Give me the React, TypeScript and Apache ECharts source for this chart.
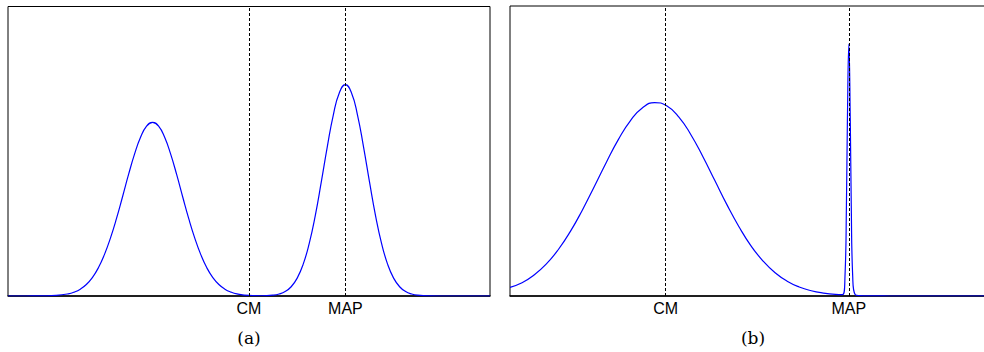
import React, { useEffect, useRef } from "react";
import * as echarts from "echarts";

// Panel (a): bimodal density
const aX: number[] = [0, 0.25, 0.5, 0.75, 1, 1.25, 1.375, 1.5, 1.625, 1.75, 1.875, 2, 2.125, 2.25, 2.375, 2.5, 2.625, 2.75, 2.875, 3, 3.125, 3.25, 3.375, 3.5, 3.625, 3.75, 3.875, 4, 4.125, 4.25, 4.375, 4.5, 4.625, 4.75, 5, 5.25, 5.5, 5.625, 5.75, 5.875, 6, 6.125, 6.25, 6.375, 6.5, 6.625, 6.75, 6.875, 7, 7.125, 7.25, 7.375, 7.5, 7.625, 7.75, 7.875, 8, 8.125, 8.25, 8.375, 8.5, 8.75, 9, 9.25, 9.5, 9.75, 10];
const aY: number[] = [0, 0, 0.0001, 0.0004, 0.0019, 0.0074, 0.0135, 0.0237, 0.0397, 0.0636, 0.0974, 0.143, 0.2, 0.267, 0.342, 0.419, 0.49, 0.548, 0.587, 0.6, 0.587, 0.548, 0.49, 0.419, 0.342, 0.267, 0.2, 0.143, 0.0974, 0.0636, 0.0397, 0.0237, 0.0135, 0.0074, 0.0019, 0.0008, 0.0029, 0.0069, 0.0154, 0.032, 0.0618, 0.11, 0.182, 0.278, 0.394, 0.516, 0.626, 0.702, 0.73, 0.702, 0.626, 0.516, 0.394, 0.278, 0.182, 0.11, 0.0618, 0.032, 0.0154, 0.0069, 0.0028, 0.0004, 0, 0, 0, 0, 0];
const aMarkerNames: string[] = ["CM", "MAP"];
const aMarkerX: number[] = [5, 7];

// Panel (b): broad mode + narrow spike
const bX: number[] = [0, 0.25, 0.5, 0.75, 1, 1.25, 1.5, 1.75, 2, 2.25, 2.5, 2.75, 3, 3.25, 3.5, 3.75, 4, 4.25, 4.5, 4.75, 5, 5.25, 5.5, 5.75, 6, 6.25, 6.5, 6.75, 6.9, 6.95, 6.98, 7.0, 7.03, 7.06, 7.08, 7.11, 7.16, 7.25, 7.5, 7.75, 8, 8.5, 9, 9.5, 10];
const bY: number[] = [0.03, 0.0456, 0.0723, 0.1097, 0.1595, 0.222, 0.296, 0.3776, 0.4614, 0.54, 0.605, 0.649, 0.667, 0.656, 0.618, 0.557, 0.481, 0.398, 0.315, 0.239, 0.173, 0.1205, 0.0802, 0.0511, 0.0312, 0.0182, 0.0102, 0.0055, 0.0046, 0.068, 0.315, 0.603, 0.869, 0.603, 0.315, 0.068, 0.005, 0.0015, 0.0005, 0.0001, 0, 0, 0, 0, 0];
const bMarkerNames: string[] = ["CM", "MAP"];
const bMarkerX: number[] = [3.23, 7.03];

const captions: string[] = ["(a)", "(b)"];

export default function App() {
  const ref = useRef<HTMLDivElement>(null);
  useEffect(() => {
    if (!ref.current) return;
    const chart = echarts.init(ref.current, undefined, { renderer: "svg" });
    const grids = [
      { left: 8, top: 6.5, width: 482, height: 289.5 },
      { left: 510, top: 6, width: 482, height: 290 },
    ];
    const mkLine = (names: string[], xs: number[]) => ({
      silent: true,
      symbol: "none",
      animation: false,
      lineStyle: { type: [3, 2], color: "#000", width: 1 },
      label: {
        show: true,
        position: "start",
        distance: 4,
        formatter: "{b}",
        fontSize: 16,
        fontFamily: "Liberation Sans, Arial, sans-serif",
        color: "#000",
      },
      emphasis: { disabled: true },
      data: names.map((n, i) => ({ name: n, xAxis: xs[i] })),
    });
    chart.setOption({
      animation: false,
      grid: grids.map((g) => ({
        ...g,
        show: true,
        outerBoundsMode: "none",
        containLabel: false,
        borderColor: "#000",
        borderWidth: 1,
        backgroundColor: "transparent",
      })),
      xAxis: [0, 1].map((i) => ({
        type: "value",
        gridIndex: i,
        min: 0,
        max: 10,
        axisLine: { show: true, onZero: false, lineStyle: { color: "#000", width: 1.5 } },
        axisTick: { show: false },
        axisLabel: { show: false },
        splitLine: { show: false },
      })),
      yAxis: [0, 1].map((i) => ({
        type: "value",
        gridIndex: i,
        min: 0,
        max: 1,
        axisLine: { show: false },
        axisTick: { show: false },
        axisLabel: { show: false },
        splitLine: { show: false },
      })),
      series: [
        {
          type: "line",
          xAxisIndex: 0,
          yAxisIndex: 0,
          data: aX.map((x, i) => [x, aY[i]]),
          smooth: 0.5,
          showSymbol: false,
          lineStyle: { color: "#0000ff", width: 1.2 },
          markLine: mkLine(aMarkerNames, aMarkerX),
        },
        {
          type: "line",
          xAxisIndex: 1,
          yAxisIndex: 1,
          data: bX.map((x, i) => [x, bY[i]]),
          smooth: 0.5,
          showSymbol: false,
          lineStyle: { color: "#0000ff", width: 1.2 },
          markLine: mkLine(bMarkerNames, bMarkerX),
        },
      ],
      graphic: captions.map((c, i) => ({
        type: "text",
        x: i === 0 ? 249 : 753,
        y: 338,
        style: {
          text: c,
          align: "center",
          verticalAlign: "middle",
          fontSize: 17,
          fontFamily: "DejaVu Serif, serif",
          fill: "#000",
        },
      })),
    });
    return () => chart.dispose();
  }, []);
  return (
    <div
      ref={ref}
      style={{ position: "fixed", left: 0, top: 0, width: 984, height: 352, background: "#fff" }}
    />
  );
}
